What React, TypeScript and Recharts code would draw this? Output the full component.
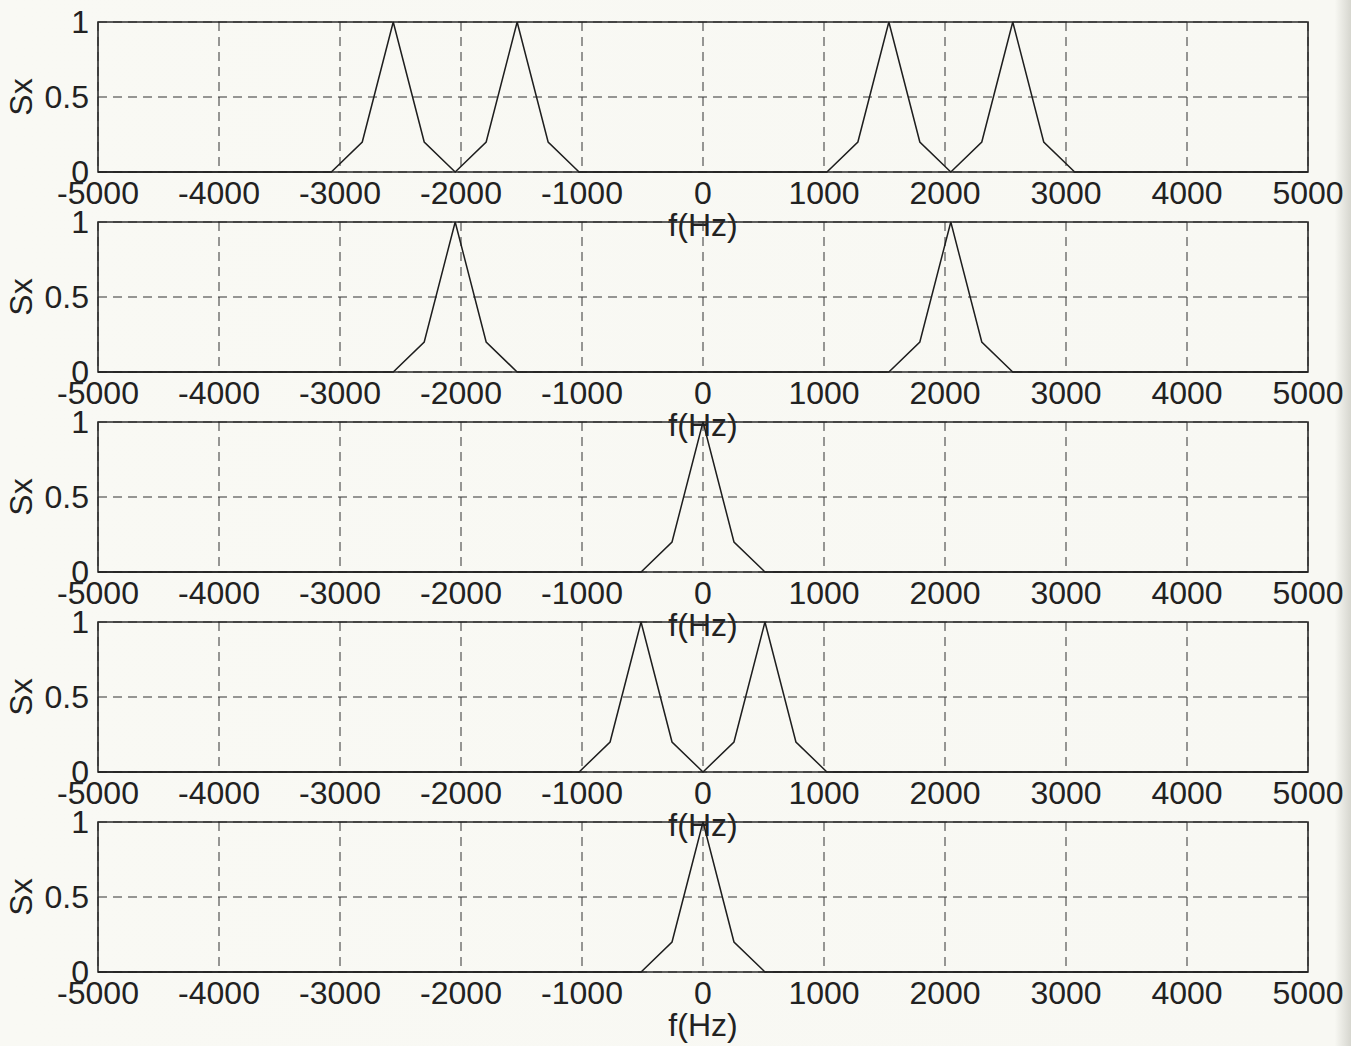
import React from "react";
import { LineChart, Line, XAxis, YAxis, CartesianGrid, ReferenceArea } from "recharts";

// Frequency axis ticks and amplitude ticks
const freqTicks = [-5000, -4000, -3000, -2000, -1000, 0, 1000, 2000, 3000, 4000, 5000];
const sxTicks = [0, 0.5, 1];

// Spectrum 1: two lobe pairs at ±1536 Hz and ±2560 Hz
const freq1 = [-5000, -3072, -2816, -2560, -2304, -2048, -1792, -1536, -1280, -1024, 1024, 1280, 1536, 1792, 2048, 2304, 2560, 2816, 3072, 5000];
const sx1 = [0, 0, 0.2, 1, 0.2, 0, 0.2, 1, 0.2, 0, 0, 0.2, 1, 0.2, 0, 0.2, 1, 0.2, 0, 0];

// Spectrum 2: lobes at ±2048 Hz
const freq2 = [-5000, -2560, -2304, -2048, -1792, -1536, 1536, 1792, 2048, 2304, 2560, 5000];
const sx2 = [0, 0, 0.2, 1, 0.2, 0, 0, 0.2, 1, 0.2, 0, 0];

// Spectrum 3: single lobe at DC
const freq3 = [-5000, -512, -256, 0, 256, 512, 5000];
const sx3 = [0, 0, 0.2, 1, 0.2, 0, 0];

// Spectrum 4: lobes at ±512 Hz
const freq4 = [-5000, -1024, -768, -512, -256, 0, 256, 512, 768, 1024, 5000];
const sx4 = [0, 0, 0.2, 1, 0.2, 0, 0.2, 1, 0.2, 0, 0];

// Spectrum 5: single lobe at DC
const freq5 = [-5000, -512, -256, 0, 256, 512, 5000];
const sx5 = [0, 0, 0.2, 1, 0.2, 0, 0];

const zip = (f: number[], s: number[]) => f.map((v, i) => ({ f: v, sx: s[i] }));

const panels = [zip(freq1, sx1), zip(freq2, sx2), zip(freq3, sx3), zip(freq4, sx4), zip(freq5, sx5)];

const FONT = "'Liberation Sans', Arial, Helvetica, sans-serif";
const INK = "#222";
const FS = 32;
const tickStyle = { fontSize: FS, fill: INK, fontFamily: FONT };

const SxLabel = (props: any) => {
  const vb = props.viewBox || { x: 0, y: 0, width: 0, height: 0 };
  const x = vb.x + 21;
  const y = vb.y + vb.height / 2;
  return (
    <text
      x={x}
      y={y}
      transform={`rotate(-90, ${x}, ${y})`}
      textAnchor="middle"
      dominantBaseline="central"
      fontSize={FS}
      fontFamily={FONT}
      fill={INK}
    >
      Sx
    </text>
  );
};

const Panel = ({ data }: { data: { f: number; sx: number }[] }) => (
  <LineChart
    width={1351}
    height={250}
    data={data}
    margin={{ top: 20, right: 43, bottom: 10, left: 0 }}
  >
    <CartesianGrid stroke="#333" strokeDasharray="9 6" strokeWidth={1} />
    <XAxis
      dataKey="f"
      type="number"
      domain={[-5000, 5000]}
      ticks={freqTicks}
      axisLine={false}
      tickLine={false}
      tickSize={6}
      tickMargin={3}
      height={70}
      tick={tickStyle}
      interval={0}
      label={{ value: "f(Hz)", position: "insideBottom", offset: 6, style: { fontSize: FS, fill: INK, fontFamily: FONT } }}
    />
    <YAxis
      type="number"
      domain={[0, 1]}
      ticks={sxTicks}
      axisLine={false}
      tickLine={false}
      tickSize={6}
      tickMargin={3}
      width={98}
      tick={tickStyle}
      interval={0}
      label={<SxLabel />}
    />
    <ReferenceArea x1={-5000} x2={5000} y1={0} y2={1} fill="none" stroke="#2a2a2a" strokeWidth={1.6} />
    <Line
      type="linear"
      dataKey="sx"
      stroke="#1e1e1e"
      strokeWidth={1.5}
      dot={false}
      activeDot={false}
      isAnimationActive={false}
    />
  </LineChart>
);

export default function App() {
  return (
    <div
      style={{
        position: "absolute",
        left: 0,
        top: 0,
        width: 1351,
        height: 1046,
        overflow: "hidden",
        background: "linear-gradient(to right, #f9f9f4 0%, #f8f8f3 98.8%, #d6d6cf 100%)",
      }}
    >
      {panels.map((d, i) => (
        <div key={i} style={{ position: "absolute", left: 0, top: 2 + 200 * i }}>
          <Panel data={d} />
        </div>
      ))}
    </div>
  );
}
